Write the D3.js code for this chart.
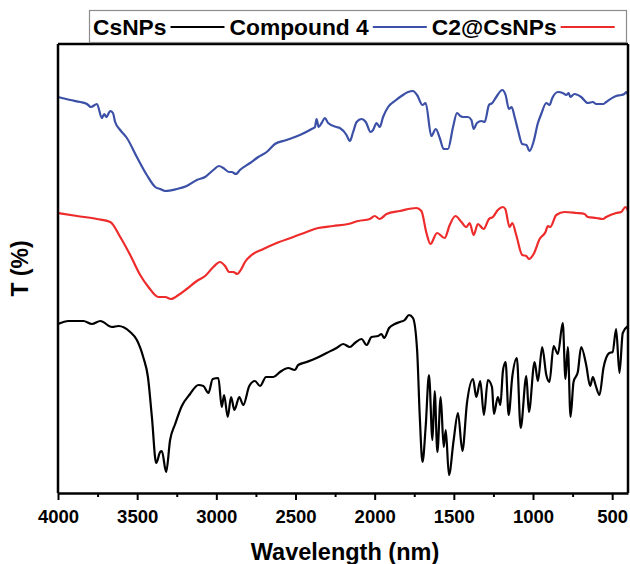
<!DOCTYPE html>
<html lang="en">
<head>
<meta charset="utf-8">
<title>FTIR spectra</title>
<script src="https://d3js.org/d3.v7.min.js"></script>
<style>
  body { margin: 0; background: #fff; }
  text { font-family: "Liberation Sans", Arial, sans-serif; font-weight: bold; }
  .line { fill: none; stroke-width: 2.2; stroke-linejoin: round; }
</style>
</head>
<body>
<div id="chart"></div>
<script>
const w = 630;
const h = 564;

// wavenumber axis
const majorTicks = [4000, 3500, 3000, 2500, 2000, 1500, 1000, 500];
const minorTicks = [3750, 3250, 2750, 2250, 1750, 1250, 750];

// legend entries (text then line, as in the figure)
const legendNames = ["CsNPs", "Compound 4", "C2@CsNPs"];
const legendColors = ["#000000", "#3b50a6", "#ee2b2b"];

// blue trace (arbitrary T units)
const blueWn = [4000, 3922, 3859, 3817, 3792, 3754, 3723, 3708, 3695, 3670, 3653, 3639, 3607, 3565, 3502, 3439, 3386, 3355, 3323, 3250,
  3187, 3123, 3071, 3019, 2983, 2956, 2920, 2903, 2876, 2851, 2787, 2735, 2682, 2630, 2556, 2472, 2398, 2377, 2367, 2354,
  2335, 2314, 2294, 2241, 2220, 2178, 2157, 2136, 2114, 2083, 2056, 2026, 2010, 1988, 1968, 1947, 1915, 1873, 1831, 1789,
  1758, 1732, 1698, 1678, 1642, 1614, 1589, 1564, 1537, 1505, 1480, 1459, 1442, 1411, 1389, 1375, 1354, 1326, 1305, 1278,
  1257, 1232, 1194, 1173, 1152, 1135, 1116, 1095, 1068, 1042, 1022, 997, 969, 948, 916, 896, 878, 843, 812, 790,
  774, 765, 738, 696, 654, 622, 601, 555, 538, 475, 443, 423, 412, 400];
const blueT = [396, 393, 391, 389, 386, 389, 375, 379, 376, 382, 380, 371, 363, 355, 336, 318, 306, 304, 302, 304,
  307, 313, 316, 323, 327, 325, 321, 321, 319, 323, 330, 336, 341, 349, 353, 358, 364, 366, 374, 366,
  370, 375, 370, 366, 365, 358, 352, 361, 371, 374, 371, 361, 363, 370, 366, 376, 386, 392, 397, 401,
  402, 398, 388, 390, 357, 364, 355, 344, 344, 366, 380, 377, 376, 376, 373, 364, 370, 372, 371, 388,
  390, 396, 403, 398, 384, 386, 376, 363, 349, 348, 342, 351, 370, 379, 390, 388, 395, 401, 400, 398,
  400, 396, 399, 396, 390, 391, 389, 389, 391, 397, 398, 399, 401, 398];

// red trace
const redWn = [4000, 3880, 3754, 3670, 3607, 3544, 3481, 3429, 3366, 3323, 3287, 3239, 3187, 3123, 3071, 3019, 2977, 2945, 2918, 2893,
  2867, 2846, 2819, 2777, 2703, 2619, 2514, 2430, 2357, 2262, 2167, 2104, 2031, 2000, 1968, 1925, 1841, 1736, 1705, 1673,
  1648, 1606, 1558, 1526, 1490, 1452, 1421, 1400, 1375, 1348, 1312, 1278, 1253, 1222, 1190, 1175, 1148, 1131, 1106, 1068,
  1042, 1026, 996, 958, 921, 906, 891, 853, 801, 727, 675, 654, 601, 559, 538, 475, 443, 416, 400];
const redT = [280, 277, 274, 271, 256, 238, 218, 206, 196, 196, 194, 198, 204, 212, 217, 226, 231, 227, 221, 221,
  219, 223, 231, 238, 244, 250, 256, 261, 265, 267, 269, 272, 274, 277, 274, 279, 282, 285, 282, 260,
  249, 260, 255, 268, 277, 271, 266, 270, 258, 269, 264, 274, 276, 283, 286, 284, 266, 270, 258, 238,
  237, 234, 239, 254, 261, 267, 266, 278, 281, 280, 279, 276, 275, 274, 276, 280, 281, 286, 282];

// black trace
const blackWn = [4000, 3933, 3839, 3786, 3733, 3659, 3618, 3544, 3502, 3460, 3432, 3407, 3380, 3355, 3344, 3317, 3292, 3260, 3218, 3166,
  3113, 3082, 3050, 3023, 2987, 2966, 2951, 2928, 2907, 2886, 2855, 2830, 2792, 2756, 2724, 2686, 2640, 2598, 2546, 2504,
  2483, 2430, 2367, 2304, 2241, 2199, 2157, 2125, 2083, 2051, 2020, 1978, 1957, 1940, 1909, 1873, 1841, 1810, 1783, 1758,
  1732, 1715, 1698, 1678, 1657, 1635, 1621, 1604, 1583, 1564, 1551, 1531, 1501, 1474, 1446, 1417, 1379, 1358, 1333, 1310,
  1285, 1259, 1247, 1222, 1206, 1190, 1173, 1154, 1131, 1102, 1078, 1042, 1026, 990, 969, 942, 916, 896, 870, 843,
  812, 795, 780, 763, 744, 717, 696, 664, 639, 622, 605, 580, 555, 518, 497, 475, 454, 433, 400];
const blackT = [169, 172, 172, 169, 172, 166, 167, 161, 153, 135, 116, 76, 30, 41, 42, 21, 53, 69, 87, 99,
  108, 107, 100, 114, 115, 86, 98, 76, 96, 83, 96, 88, 107, 112, 107, 116, 116, 121, 125, 123,
  128, 131, 135, 140, 145, 149, 146, 150, 154, 148, 156, 157, 159, 155, 165, 169, 171, 173, 178, 175,
  143, 76, 31, 66, 118, 53, 102, 41, 96, 46, 63, 18, 53, 80, 42, 90, 114, 96, 112, 78,
  113, 106, 79, 96, 88, 122, 131, 78, 116, 135, 65, 117, 81, 131, 112, 146, 118, 111, 147, 139,
  170, 114, 146, 76, 111, 121, 146, 128, 107, 116, 108, 98, 125, 140, 141, 164, 120, 160, 167];

const margin = { left: 58, right: 2, top: 44, bottom: 71 };

const svg = d3.select("#chart")
  .append("svg")
  .attr("width", w)
  .attr("height", h);

const xScale = d3.scaleLinear()
  .domain([4000, 400])
  .range([margin.left, w - margin.right]);

const yScale = d3.scaleLinear()
  .domain([0, 449])
  .range([h - margin.bottom, margin.top]);

const lineGen = d3.line()
  .x(d => xScale(d[0]))
  .y(d => yScale(d[1]))
  .curve(d3.curveMonotoneX);

const traces = [
  { wn: blueWn, t: blueT, color: legendColors[1] },
  { wn: redWn, t: redT, color: legendColors[2] },
  { wn: blackWn, t: blackT, color: legendColors[0] }
];

svg.selectAll("path.line")
  .data(traces)
  .enter()
  .append("path")
  .attr("class", "line")
  .attr("stroke", d => d.color)
  .attr("d", d => lineGen(d.wn.map((v, i) => [v, d.t[i]])));

// frame
const x0 = xScale(4000), x1 = xScale(400);
const y0 = yScale(0), y1 = yScale(449);
svg.append("line").attr("x1", x0).attr("x2", x1).attr("y1", y1).attr("y2", y1)
  .attr("stroke", "#000").attr("stroke-width", 2.5);
svg.append("line").attr("x1", x1).attr("x2", x1).attr("y1", y1).attr("y2", y0)
  .attr("stroke", "#000").attr("stroke-width", 2.5);

// x axis
const xAxis = d3.axisBottom(xScale)
  .tickValues(majorTicks)
  .tickFormat(d3.format("d"))
  .tickSize(7)
  .tickSizeOuter(0)
  .tickPadding(10);

const gx = svg.append("g")
  .attr("transform", `translate(0, ${y0})`)
  .call(xAxis);
gx.select(".domain").attr("stroke-width", 2.5);
gx.selectAll(".tick line").attr("stroke-width", 2);
gx.selectAll(".tick text")
  .attr("font-size", 18.5)
  .attr("font-family", "'Liberation Sans', Arial, sans-serif")
  .attr("font-weight", "bold")
  .attr("fill", "#000");

const gxMinor = svg.append("g")
  .attr("transform", `translate(0, ${y0})`)
  .call(d3.axisBottom(xScale).tickValues(minorTicks).tickSize(4).tickSizeOuter(0).tickFormat(""));
gxMinor.select(".domain").remove();
gxMinor.selectAll(".tick line").attr("stroke-width", 2);

// left axis line
svg.append("line").attr("x1", x0).attr("x2", x0).attr("y1", y1).attr("y2", y0)
  .attr("stroke", "#000").attr("stroke-width", 2.5);

// axis titles
svg.append("text")
  .attr("x", 345)
  .attr("y", 560)
  .attr("text-anchor", "middle")
  .attr("font-size", 23.5)
  .text("Wavelength (nm)");

svg.append("text")
  .attr("transform", `translate(28, ${(y0 + y1) / 2}) rotate(-90)`)
  .attr("text-anchor", "middle")
  .attr("font-size", 23)
  .text("T (%)");

// legend
const legend = svg.append("g");
legend.append("rect")
  .attr("x", 89.5).attr("y", 10.5)
  .attr("width", 537).attr("height", 32)
  .attr("fill", "#fff")
  .attr("stroke", "#8c8c8c")
  .attr("stroke-width", 1.2);

let lx = 93;
legendNames.forEach((name, i) => {
  const t = legend.append("text")
    .attr("x", lx)
    .attr("y", 35)
    .attr("font-size", 22.8)
    .text(name);
  const tw = t.node().getComputedTextLength();
  legend.append("line")
    .attr("x1", lx + tw + 4).attr("x2", lx + tw + 58)
    .attr("y1", 27).attr("y2", 27)
    .attr("stroke", legendColors[i])
    .attr("stroke-width", 2);
  lx += tw + 63;
});
</script>
</body>
</html>
